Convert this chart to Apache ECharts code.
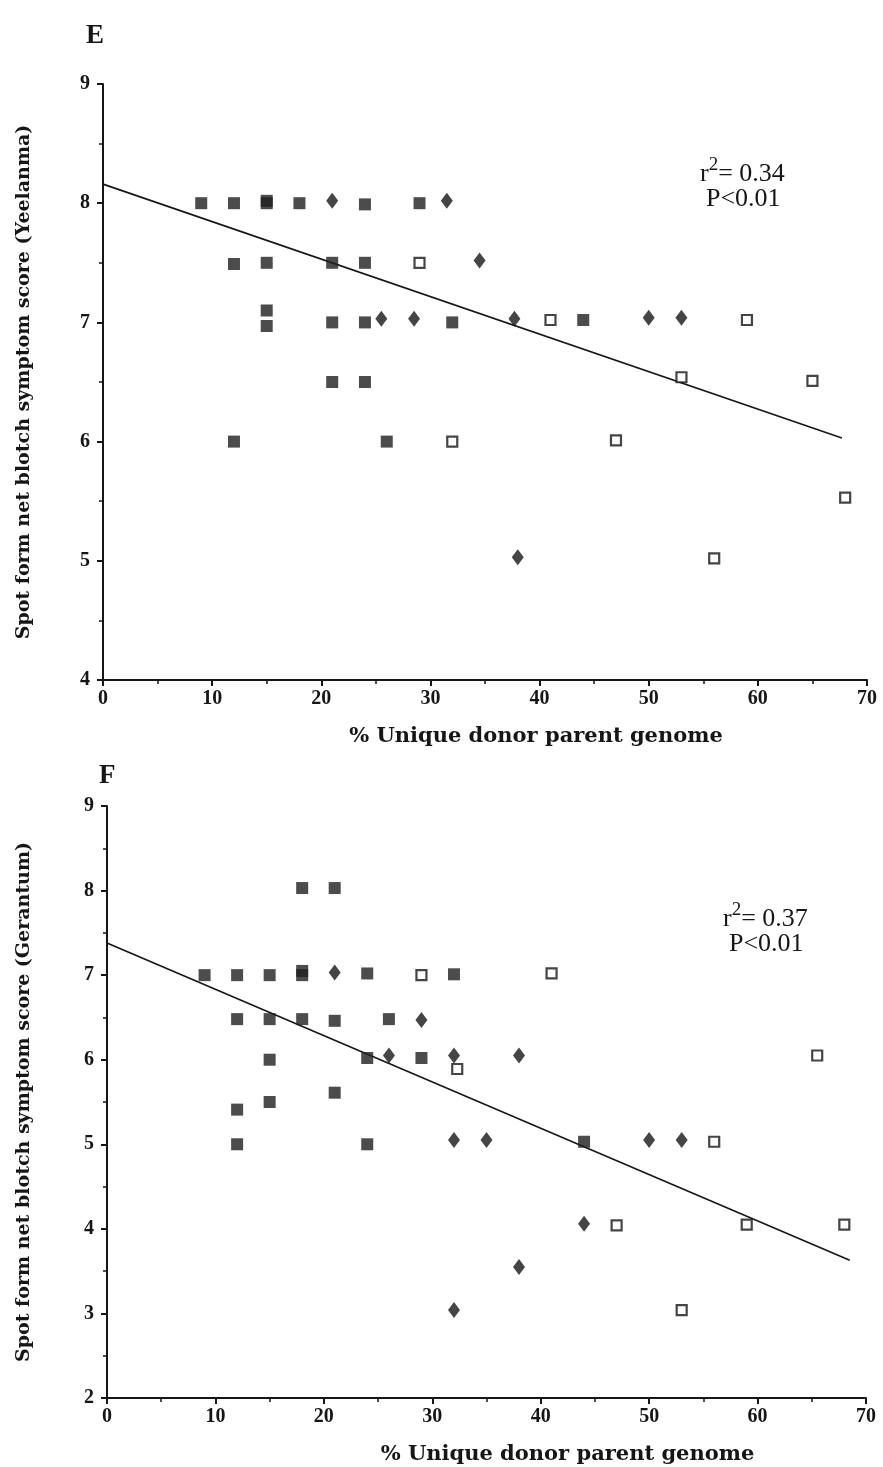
<!DOCTYPE html>
<html><head><meta charset="utf-8">
<script src="https://cdn.jsdelivr.net/npm/echarts@6/dist/echarts.min.js"></script>
<style>html,body{margin:0;padding:0;background:#fff}#c{width:883px;height:1467px}</style>
</head><body><div id="c"></div>
<script>
// Panel E (Yeelanma)
const eFilledSquares = [[9,8],[12,8],[15,8],[15,8.02],[18,8],[24,7.99],[29,8],[12,7.49],[15,7.5],[21,7.5],[24,7.5],[15,7.1],[15,6.97],[21,7],[24,7],[32,7],[44,7.02],[21,6.5],[24,6.5],[12,6],[26,6]];
const eDiamonds = [[21,8.02],[31.5,8.02],[34.5,7.52],[25.5,7.03],[28.5,7.03],[37.7,7.03],[50,7.04],[53,7.04],[38,5.03]];
const eOpenSquares = [[29,7.5],[41,7.02],[59,7.02],[53,6.54],[65,6.51],[32,6],[47,6.01],[68,5.53],[56,5.02]];
const eTrend = [[0,8.16],[67.7,6.03]];
// Panel F (Gerantum)
const fFilledSquares = [[18,8.03],[21,8.03],[9,7],[12,7],[15,7],[18,7],[18,7.05],[24,7.02],[32,7.01],[12,6.48],[15,6.48],[18,6.48],[21,6.46],[26,6.48],[15,6],[24,6.02],[29,6.02],[21,5.61],[15,5.5],[12,5.41],[12,5],[24,5],[44,5.03]];
const fDiamonds = [[21,7.03],[29,6.47],[26,6.05],[32,6.05],[38,6.05],[32,5.05],[35,5.05],[50,5.05],[53,5.05],[44,4.06],[38,3.55],[32,3.04]];
const fOpenSquares = [[29,7],[41,7.02],[32.3,5.89],[65.5,6.05],[56,5.03],[47,4.04],[59,4.05],[68,4.05],[53,3.04]];
const fTrend = [[0,7.38],[68.5,3.63]];

const xTitle = '% Unique donor parent genome';
const yTitleE = 'Spot form net blotch symptom score (Yeelanma)';
const yTitleF = 'Spot form net blotch symptom score (Gerantum)';
const statsE = ['0.34', 'P<0.01'];
const statsF = ['0.37', 'P<0.01'];

const FF = '"Liberation Serif", "Times New Roman", serif';
const FT = '"DejaVu Serif", "Liberation Serif", serif';
const INK = '#161616';

function xAxis(gi, shift){
  return {gridIndex:gi, type:'value', min:0, max:70, interval:10,
    axisLine:{onZero:false, lineStyle:{color:INK, width:2}},
    axisTick:{show:true, length:6, lineStyle:{color:INK, width:2}},
    minorTick:{show:true, splitNumber:2, length:4, lineStyle:{color:INK, width:1.5}},
    splitLine:{show:false}, minorSplitLine:{show:false},
    axisLabel:{fontFamily:FF, fontWeight:'bold', fontSize:20, color:INK, margin:9},
    name:xTitle, nameLocation:'middle', nameGap:46,
    nameTextStyle:{fontFamily:FT, fontWeight:'bold', fontSize:21, color:INK, padding:[0,0,0,shift*2]}};
}
function yAxis(gi, min, name, gap){
  return {gridIndex:gi, type:'value', min:min, max:9, interval:1,
    axisLine:{onZero:false, lineStyle:{color:INK, width:2}},
    axisTick:{show:true, length:6, lineStyle:{color:INK, width:2}},
    minorTick:{show:true, splitNumber:2, length:4, lineStyle:{color:INK, width:1.5}},
    splitLine:{show:false}, minorSplitLine:{show:false},
    axisLabel:{fontFamily:FF, fontWeight:'bold', fontSize:20, color:INK, margin:13},
    name:name, nameLocation:'middle', nameGap:gap, nameRotate:90,
    nameTextStyle:{fontFamily:FT, fontWeight:'bold', fontSize:19, color:INK}};
}
function filled(d, gi){ return {type:'scatter', xAxisIndex:gi, yAxisIndex:gi, data:d, symbol:'rect', symbolSize:12, itemStyle:{color:'#1f1f1f'}, z:4}; }
function diam(d, gi){ return {type:'scatter', xAxisIndex:gi, yAxisIndex:gi, data:d, symbol:'diamond', symbolSize:[12,16], itemStyle:{color:'#161616'}, z:4}; }
function openSq(d, gi){ return {type:'scatter', xAxisIndex:gi, yAxisIndex:gi, data:d, symbol:'rect', symbolSize:10, itemStyle:{color:'#fff', borderColor:'#161616', borderWidth:2.2}, z:4}; }
function trend(d, gi){ return {type:'line', xAxisIndex:gi, yAxisIndex:gi, data:d, symbol:'none', silent:true, lineStyle:{color:INK, width:1.6}, z:3}; }

function stats(left, top, s){
  return [
    {type:'text', left:left, top:top, style:{text:'{r|r}{s|2}{t|= '+s[0]+'}', rich:{
      r:{fontFamily:FF, fontSize:26, fill:INK, verticalAlign:'bottom'},
      s:{fontFamily:FF, fontSize:19, fill:INK, verticalAlign:'top', padding:[0,0,12,0]},
      t:{fontFamily:FF, fontSize:26, fill:INK, verticalAlign:'bottom'}}}},
    {type:'text', left:left+6, top:top+30, style:{text:s[1], fontFamily:FF, fontSize:26, fill:INK}}
  ];
}

const chart = echarts.init(document.getElementById('c'), null, {renderer:'canvas'});
chart.setOption({
  backgroundColor:'#fff',
  animation:false,
  grid:[
    {left:103, right:16, top:84, height:596},
    {left:107, right:17, top:806, height:592}
  ],
  xAxis:[xAxis(0, 51), xAxis(1, 81)],
  yAxis:[yAxis(0, 4, yTitleE, 69), yAxis(1, 2, yTitleF, 73)],
  graphic:[
    {type:'text', left:86, top:23, style:{text:'E', fontFamily:FF, fontWeight:'bold', fontSize:27, fill:INK}},
    {type:'text', left:99, top:763, style:{text:'F', fontFamily:FF, fontWeight:'bold', fontSize:27, fill:INK}},
    ...stats(700, 156, statsE),
    ...stats(723, 901, statsF)
  ],
  series:[
    trend(eTrend,0), filled(eFilledSquares,0), diam(eDiamonds,0), openSq(eOpenSquares,0),
    trend(fTrend,1), filled(fFilledSquares,1), diam(fDiamonds,1), openSq(fOpenSquares,1)
  ]
});
</script></body></html>
